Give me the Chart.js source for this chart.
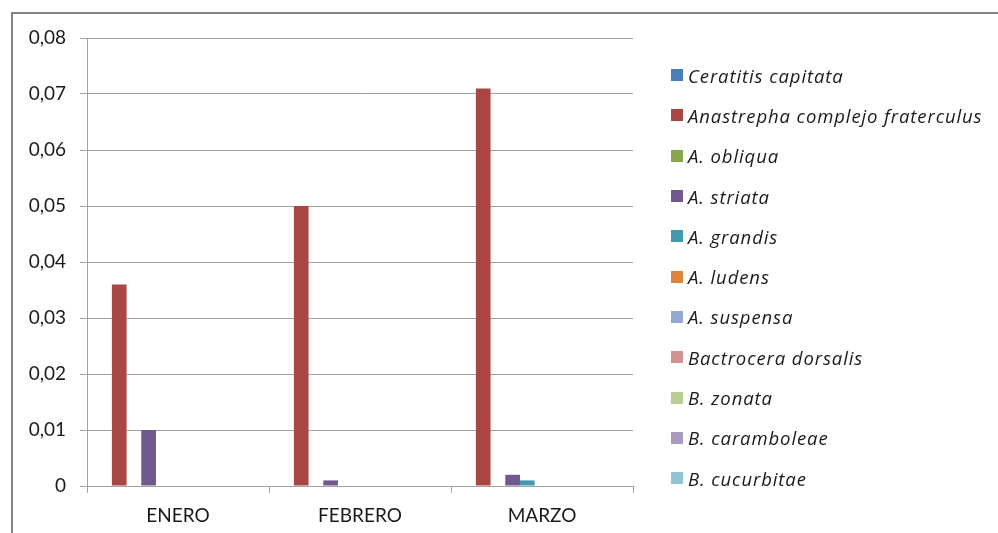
<!DOCTYPE html>
<html>
<head>
<meta charset="utf-8">
<script src="https://cdn.jsdelivr.net/npm/chart.js@4/dist/chart.umd.min.js"></script>
<style>
  body { margin: 0; background: #fff; }
  #wrap { position: relative; width: 998px; height: 533px; overflow: hidden; }
  #frame { position: absolute; left: 11px; top: 12px; width: 1100px; height: 700px;
           border-top: 2px solid #828282; border-left: 2px solid #828282; }
  #chart { position: absolute; left: 0; top: 0; }
  #legend { position: absolute; left: 671px; top: 55px; margin: 0; padding: 0; list-style: none;
            font-family: "Open Sans", sans-serif; font-style: italic; font-size: 18.5px;
            letter-spacing: 0.9px; color: #1a1a1a; }
  #legend li { height: 40.3px; display: flex; align-items: center; white-space: nowrap; }
  #legend span.box { width: 12px; height: 12px; margin-right: 5px; display: inline-block; }
</style>
</head>
<body>
<div id="wrap">
  <div id="frame"></div>
  <canvas id="chart" width="998" height="533"></canvas>
  <ul id="legend"></ul>
</div>
<script>
const months = ['ENERO', 'FEBRERO', 'MARZO'];
const yTickLabels = ['0', '0,01', '0,02', '0,03', '0,04', '0,05', '0,06', '0,07', '0,08'];

const speciesNames = [
  'Ceratitis capitata', 'Anastrepha complejo fraterculus', 'A. obliqua', 'A. striata',
  'A. grandis', 'A. ludens', 'A. suspensa', 'Bactrocera dorsalis', 'B. zonata',
  'B. caramboleae', 'B. cucurbitae'
];
const speciesColors = [
  '#4A7EBB', '#AA4643', '#89A54E', '#71588F', '#4198AF', '#DB843D',
  '#93A9CF', '#D19392', '#B9CD96', '#A99BBD', '#92C5D4'
];

// one small array per species (ENERO, FEBRERO, MARZO)
const ceratitis   = [0, 0, 0];
const fraterculus = [0.036, 0.05, 0.071];
const obliqua     = [0, 0, 0];
const striata     = [0.01, 0.001, 0.002];
const grandis     = [0, 0, 0.001];
const ludens      = [0, 0, 0];
const suspensa    = [0, 0, 0];
const dorsalis    = [0, 0, 0];
const zonata      = [0, 0, 0];
const caramboleae = [0, 0, 0];
const cucurbitae  = [0, 0, 0];

const seriesValues = [ceratitis, fraterculus, obliqua, striata, grandis, ludens,
  suspensa, dorsalis, zonata, caramboleae, cucurbitae];

const gridColor = '#a3a3a3';
const tickFont = { family: 'Lato, sans-serif', size: 19 };

const datasets = speciesNames.map((name, i) => ({
  label: name,
  data: seriesValues[i],
  backgroundColor: speciesColors[i],
  borderWidth: 0,
  barPercentage: 1,
  categoryPercentage: 0.888,
}));

new Chart(document.getElementById('chart'), {
  type: 'bar',
  data: { labels: months, datasets: datasets },
  options: {
    responsive: false,
    animation: false,
    layout: { padding: { left: 0, top: 38, right: 365, bottom: 0 } },
    plugins: { legend: { display: false }, tooltip: { enabled: false } },
    scales: {
      x: {
        offset: true,
        grid: { display: true, offset: true, drawOnChartArea: false, tickLength: 7, color: gridColor },
        border: { display: true, color: gridColor },
        ticks: { font: tickFont, color: '#1a1a1a', padding: 11 },
        afterFit: scale => { scale.height = 47; },
      },
      y: {
        min: 0,
        max: 0.08,
        ticks: {
          stepSize: 0.01,
          font: tickFont,
          color: '#1a1a1a',
          padding: 14,
          callback: (value, index) => yTickLabels[index],
        },
        grid: { color: gridColor, tickLength: 7 },
        border: { display: true, color: gridColor },
        afterFit: scale => { scale.width = 87; },
      },
    },
  },
});

// legend on the right, built from the same arrays
const legend = document.getElementById('legend');
speciesNames.forEach((name, i) => {
  const li = document.createElement('li');
  const box = document.createElement('span');
  box.className = 'box';
  box.style.background = speciesColors[i];
  li.appendChild(box);
  li.appendChild(document.createTextNode(name));
  legend.appendChild(li);
});
</script>
</body>
</html>
